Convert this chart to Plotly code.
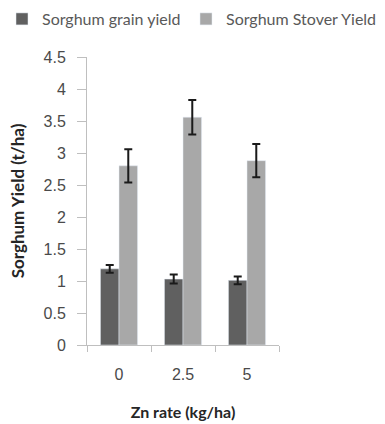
import plotly.graph_objects as go

categories = ["0", "2.5", "5"]
grain = [1.19, 1.03, 1.01]
grain_err = [0.06, 0.07, 0.06]
stover = [2.80, 3.56, 2.88]
stover_err = [0.26, 0.27, 0.26]
y_ticks = [0, 0.5, 1, 1.5, 2, 2.5, 3, 3.5, 4, 4.5]

fig = go.Figure()
fig.add_trace(go.Bar(
    x=categories, y=grain, name="Sorghum grain yield",
    marker_color="#606060", legend="legend",
    error_y=dict(type="data", array=grain_err, color="#1a1a1a", thickness=2, width=4),
))
fig.add_trace(go.Bar(
    x=categories, y=stover, name="Sorghum Stover Yield",
    marker_color="#a8a8a8", legend="legend2",
    error_y=dict(type="data", array=stover_err, color="#1a1a1a", thickness=2, width=4),
))

legend_common = dict(orientation="h", xref="container", yref="container",
                     xanchor="left", y=1 - 19 / 424, yanchor="middle",
                     font=dict(family="Lato", size=16, color="#595959"),
                     itemwidth=30, bgcolor="rgba(0,0,0,0)")

fig.update_layout(
    width=385, height=424,
    margin=dict(l=87, r=106, t=57, b=79, autoexpand=False),
    paper_bgcolor="white", plot_bgcolor="white",
    barmode="group", bargap=0.42, bargroupgap=0,
    showlegend=True,
    legend=dict(x=2 / 385, **legend_common),
    legend2=dict(x=186 / 385, **legend_common),
    xaxis=dict(
        type="category", automargin=False,
        showline=True, linecolor="#bfbfbf", linewidth=1,
        ticks="outside", tickson="boundaries", ticklen=6, tickcolor="#bfbfbf",
        ticklabelstandoff=15,
        tickfont=dict(family="Liberation Sans", size=16, color="#4a4a4a"),
        title=dict(text="<b>Zn rate (kg/ha)</b>", font=dict(family="Lato", size=16, color="#262626"), standoff=24),
    ),
    yaxis=dict(
        range=[0, 4.5], tickvals=y_ticks, ticktext=[f"{v:g}" for v in y_ticks],
        automargin=False,
        showgrid=False, zeroline=False,
        showline=True, linecolor="#bfbfbf", linewidth=1,
        ticks="outside", ticklen=9, tickcolor="#bfbfbf",
        ticklabelstandoff=8,
        tickfont=dict(family="Liberation Sans", size=16, color="#4a4a4a"),
        title=dict(text="<b>Sorghum Yield (t/ha)</b>", font=dict(family="Lato", size=17, color="#262626"), standoff=14),
    ),
)

fig.write_html("out.html")
